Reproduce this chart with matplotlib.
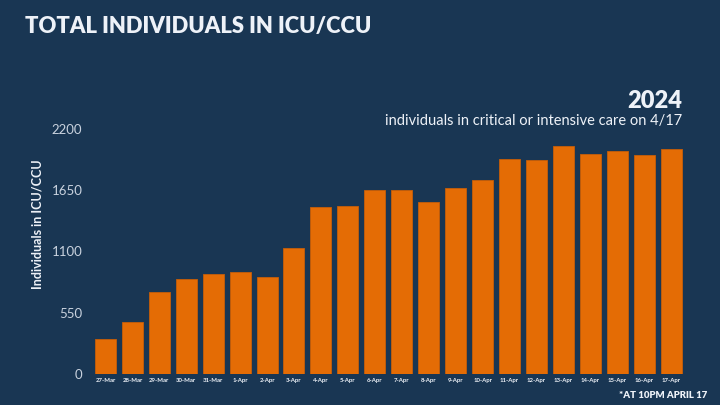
import matplotlib
matplotlib.use("Agg")
import matplotlib.pyplot as plt

dates = ["27-Mar", "28-Mar", "29-Mar", "30-Mar", "31-Mar", "1-Apr", "2-Apr", "3-Apr",
         "4-Apr", "5-Apr", "6-Apr", "7-Apr", "8-Apr", "9-Apr", "10-Apr", "11-Apr",
         "12-Apr", "13-Apr", "14-Apr", "15-Apr", "16-Apr", "17-Apr"]
icu_counts = [312, 470, 734, 850, 901, 913, 874, 1134, 1497, 1509, 1650, 1650,
              1542, 1673, 1745, 1933, 1922, 2050, 1978, 2000, 1964, 2024]
y_ticks = [0, 550, 1100, 1650, 2200]

BG = "#193653"
BAR = "#E46C05"
EDGE = "#C65E08"
TXT = "#EEF2F8"
TICK = "#C9D2DE"

plt.rcParams['font.family'] = ['Lato', 'DejaVu Sans']

fig = plt.figure(figsize=(7.2, 4.05), dpi=100, facecolor=BG)
ax = fig.add_axes([92 / 720, 31 / 405, 592.5 / 720, 245 / 405])
ax.set_facecolor(BG)

x = list(range(len(dates)))
ax.bar(x, icu_counts, width=0.78, color=BAR, edgecolor=EDGE, linewidth=0.6)

ax.set_xlim(-0.5, len(dates) - 0.5)
ax.set_ylim(0, 2200)
ax.set_yticks(y_ticks)
ax.set_yticklabels([str(v) for v in y_ticks], color=TICK, fontsize=9.5)
ax.set_xticks(x)
ax.set_xticklabels(dates, color=TXT, fontsize=4.3, fontweight='bold')
ax.tick_params(axis='both', length=0)
ax.tick_params(axis='y', pad=7)
ax.tick_params(axis='x', pad=3)
for s in ax.spines.values():
    s.set_visible(False)

fig.text(37 / 720, 1 - 224 / 405, "Individuals in ICU/CCU", color=TXT, fontsize=9,
         fontweight='bold', rotation=90, ha='center', va='center')

fig.text(25 / 720, 1 - 27 / 405, "TOTAL INDIVIDUALS IN ICU/CCU", color=TXT,
         fontsize=15.8, fontweight='heavy', ha='left', va='center')
fig.text(682 / 720, 1 - 101 / 405, "2024", color=TXT, fontsize=17,
         fontweight='heavy', ha='right', va='center')
fig.text(682 / 720, 1 - 121 / 405, "individuals in critical or intensive care on 4/17",
         color=TXT, fontsize=10.5, ha='right', va='center')
fig.text(707 / 720, 1 - 395 / 405, "*AT 10PM APRIL 17", color=TXT, fontsize=6.9,
         fontweight='heavy', ha='right', va='center')

fig.savefig("out.png", dpi=100, facecolor=BG)
